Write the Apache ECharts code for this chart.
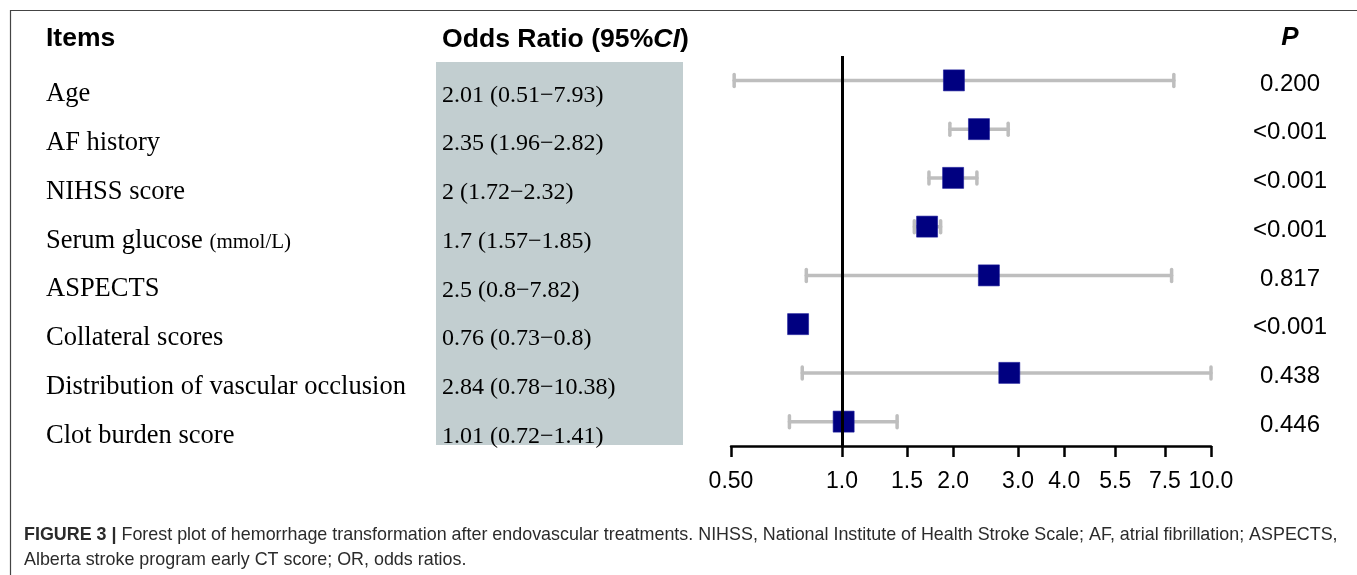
<!DOCTYPE html>
<html>
<head>
<meta charset="utf-8">
<script src="https://cdn.jsdelivr.net/npm/echarts@6/dist/echarts.min.js"></script>
<style>
html,body{margin:0;padding:0;background:#fff;}
#chart{width:1357px;height:575px;}
</style>
</head>
<body>
<div id="chart"></div>
<script>
// ---- data ----
const items = ['Age','AF history','NIHSS score','Serum glucose (mmol/L)','ASPECTS','Collateral scores','Distribution of vascular occlusion','Clot burden score'];
const oddsRatio = [2.01, 2.35, 2, 1.7, 2.5, 0.76, 2.84, 1.01];
const ciLow  = [0.51, 1.96, 1.72, 1.57, 0.8, 0.73, 0.78, 0.72];
const ciHigh = [7.93, 2.82, 2.32, 1.85, 7.82, 0.8, 10.38, 1.41];
const pValues = ['0.200','<0.001','<0.001','<0.001','0.817','<0.001','0.438','0.446'];
const tickValues = [0.5, 1, 1.5, 2, 3, 4, 5.5, 7.5, 10];
const tickLabels = ['0.50','1.0','1.5','2.0','3.0','4.0','5.5','7.5','10.0'];

const orText = oddsRatio.map((v, i) => v + ' (' + ciLow[i] + '\u2212' + ciHigh[i] + ')');
const rows = items.map((_, i) => i);

const SERIF = '"Liberation Serif","Times New Roman",serif';
const SANS = '"Liberation Sans",Arial,Helvetica,sans-serif';

const chart = echarts.init(document.getElementById('chart'), null, {renderer: 'canvas'});

const option = {
  backgroundColor: '#fff',
  animation: false,
  grid: {left: 731, width: 480, top: 56, height: 390, containLabel: false},
  xAxis: {
    type: 'log', logBase: 10, min: 0.5, max: 10,
    splitLine: {show: false},
    axisLine: {show: true, onZero: false, lineStyle: {color: '#000', width: 2.5}},
    axisTick: {show: true, customValues: tickValues, length: 11, lineStyle: {color: '#000', width: 2.5}},
    axisLabel: {
      show: true, customValues: tickValues, margin: 24,
      fontSize: 23, fontFamily: SANS, color: '#000',
      showMinLabel: true, showMaxLabel: true, hideOverlap: false,
      formatter: function (v) {
        let best = 0, bd = Infinity;
        tickValues.forEach((t, i) => { const d = Math.abs(Math.log(t) - Math.log(v)); if (d < bd) { bd = d; best = i; } });
        return tickLabels[best];
      }
    }
  },
  yAxis: [
    {
      type: 'category', data: items, inverse: true, position: 'left', offset: 685,
      axisLine: {show: false}, axisTick: {show: false}, splitLine: {show: false},
      axisLabel: {
        margin: 0, align: 'left', interval: 0,
        formatter: function (v) {
          const m = v.match(/^(.*?)\s*\((.*)\)$/);
          return m ? '{t|' + m[1] + ' }{s|(' + m[2] + ')}' : '{t|' + v + '}';
        },
        rich: {
          t: {fontSize: 26.5, fontFamily: SERIF, color: '#000', padding: [28, 0, 0, 0]},
          s: {fontSize: 21, fontFamily: SERIF, color: '#000', padding: [31, 0, 0, 0]}
        }
      }
    },
    {
      type: 'category', data: orText, inverse: true, position: 'left', offset: 289,
      axisLine: {show: false}, axisTick: {show: false}, splitLine: {show: false},
      axisLabel: {margin: 0, align: 'left', interval: 0,
        formatter: function (v) { return '{t|' + v + '}'; },
        rich: {t: {fontSize: 24, fontFamily: SERIF, color: '#000', padding: [30, 0, 0, 0]}}}
    },
    {
      type: 'category', data: pValues, inverse: true, position: 'right', offset: 0,
      axisLine: {show: false}, axisTick: {show: false}, splitLine: {show: false},
      axisLabel: {margin: 79, align: 'center', interval: 0,
        formatter: function (v) { return '{t|' + v + '}'; },
        rich: {t: {fontSize: 24, fontFamily: SANS, color: '#000', align: 'center', padding: [7, 0, 0, 0]}}}
    }
  ],
  graphic: [
    {type: 'rect', z: -10, shape: {x: 436, y: 62, width: 247, height: 383}, style: {fill: '#c2ced0'}},
    {type: 'line', shape: {x1: 10, y1: 10.5, x2: 1357, y2: 10.5}, style: {stroke: '#444', lineWidth: 1.2}},
    {type: 'line', shape: {x1: 10.5, y1: 10, x2: 10.5, y2: 575}, style: {stroke: '#444', lineWidth: 1.2}},
    {type: 'text', style: {x: 46, y: 39, text: 'Items', font: 'bold 26.5px ' + SANS, fill: '#000', verticalAlign: 'middle', align: 'left'}},
    {type: 'text', style: {x: 442, y: 40, text: '{a|Odds Ratio (95%}{i|CI}{a|)}', verticalAlign: 'middle', align: 'left',
      rich: {a: {fontWeight: 'bold', fontSize: 26.6, fontFamily: SANS, fill: '#000'}, i: {fontWeight: 'bold', fontStyle: 'italic', fontSize: 26.6, fontFamily: SANS, fill: '#000'}}}},
    {type: 'text', style: {x: 1290, y: 38, text: 'P', font: 'italic bold 26px ' + SANS, fill: '#000', verticalAlign: 'middle', align: 'center'}},
    {type: 'text', style: {x: 24, y: 535, text: '{b|FIGURE 3 |} Forest plot of hemorrhage transformation after endovascular treatments. NIHSS, National Institute of Health Stroke Scale; AF, atrial fibrillation; ASPECTS,',
      verticalAlign: 'middle', align: 'left', fontSize: 17.9, fontFamily: SANS, fill: '#2b2b2b',
      rich: {b: {fontWeight: 'bold', fontSize: 17.9, fontFamily: SANS, fill: '#2b2b2b'}}}},
    {type: 'text', style: {x: 24, y: 560, text: 'Alberta stroke program early CT score; OR, odds ratios.', verticalAlign: 'middle', align: 'left', font: '17.9px ' + SANS, fill: '#2b2b2b'}}
  ],
  series: [
    {
      type: 'line', data: [], z: 1, silent: true,
      markLine: {symbol: 'none', silent: true, label: {show: false},
        lineStyle: {color: '#000', width: 3, type: 'solid'}, data: [{xAxis: 1}]}
    },
    {
      type: 'custom', z: 2, silent: true, clip: false,
      encode: {x: [0, 1], y: 2},
      data: rows.map(i => [ciLow[i], ciHigh[i], i]),
      renderItem: function (params, api) {
        const cs = params.coordSys;
        const a = api.coord([api.value(0), api.value(2)]);
        const b = api.coord([api.value(1), api.value(2)]);
        const x1 = Math.max(cs.x, a[0]);
        const x2 = Math.min(cs.x + cs.width, b[0]);
        const y = a[1];
        const h = 6;
        const st = {stroke: '#bebebe', lineWidth: 3.5, lineCap: 'round'};
        return {type: 'group', children: [
          {type: 'line', shape: {x1: x1, y1: y, x2: x2, y2: y}, style: st},
          {type: 'line', shape: {x1: x1, y1: y - h, x2: x1, y2: y + h}, style: st},
          {type: 'line', shape: {x1: x2, y1: y - h, x2: x2, y2: y + h}, style: st}
        ]};
      }
    },
    {
      type: 'scatter', z: 3, silent: true,
      symbol: 'rect', symbolSize: 21,
      itemStyle: {color: '#000080', opacity: 1, borderColor: '#1a1a9a', borderWidth: 0.6},
      data: rows.map(i => [oddsRatio[i], i])
    }
  ]
};
chart.setOption(option);
</script>
</body>
</html>
